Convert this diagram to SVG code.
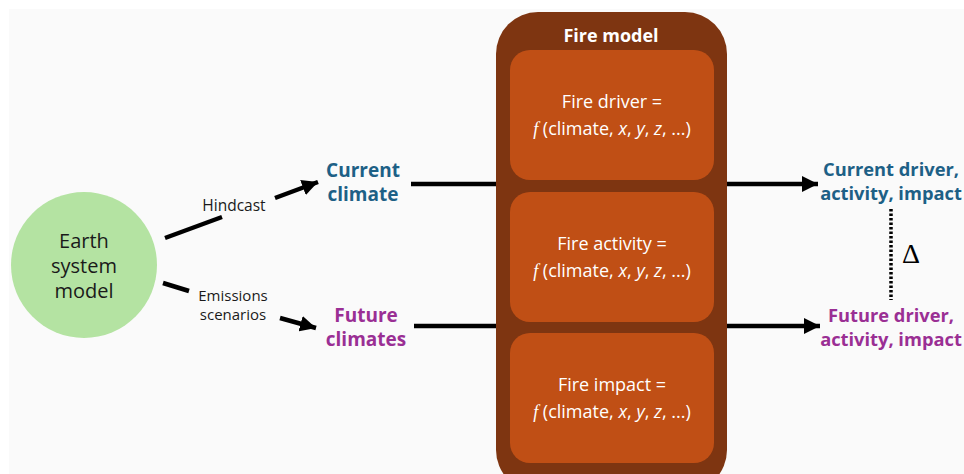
<svg xmlns="http://www.w3.org/2000/svg" width="964" height="474" viewBox="0 0 964 474">
<defs>
<style>
.lbl{font-family:"Open Sans","Noto Sans","Liberation Sans",sans-serif;text-anchor:middle}
.bold{font-weight:700;font-size:19px}
.rt{font-size:18.3px}
.cur{fill:#1d6086}
.fut{fill:#9a2f94}
.fn{fill:#ffffff;font-size:18px}
.ln{stroke:#000;stroke-width:4.5;fill:none}
.inner{fill:#c04f15}
</style>
<marker id="ah" markerUnits="userSpaceOnUse" markerWidth="18" markerHeight="16" refX="16" refY="8" orient="auto">
<path d="M0,0 L16,8 L0,16 Z" fill="#000"/>
</marker>
</defs>
<rect x="0" y="0" width="964" height="474" fill="#ffffff"/>
<rect x="9" y="9" width="955" height="465" fill="#fafafa"/>

<g id="connectors">
<line class="ln" x1="165" y1="238" x2="222" y2="217"/>
<line class="ln" x1="275" y1="198" x2="318" y2="182" marker-end="url(#ah)"/>
<line class="ln" x1="163" y1="283" x2="189" y2="291"/>
<line class="ln" x1="280" y1="318" x2="316" y2="328" marker-end="url(#ah)"/>
<line class="ln" x1="411" y1="184" x2="497" y2="184"/>
<line class="ln" x1="414" y1="326" x2="497" y2="326"/>
<line class="ln" x1="726" y1="184" x2="818" y2="184" marker-end="url(#ah)"/>
<line class="ln" x1="726" y1="326" x2="820" y2="326" marker-end="url(#ah)"/>
<line x1="891" y1="209" x2="891" y2="300" stroke="#000" stroke-width="3.5" stroke-dasharray="2.5 2"/>
</g>

<g id="earth">
<circle cx="84" cy="265" r="73" fill="#b4e3a2"/>
<text class="lbl" font-size="20" fill="#1a1a1a"><tspan x="84" y="248">Earth</tspan><tspan x="84" y="273">system</tspan><tspan x="84" y="298">model</tspan></text>
</g>

<g id="hindcast-label"><text class="lbl" x="234" y="211" font-size="15.5" fill="#1a1a1a">Hindcast</text></g>
<g id="emissions-label"><text class="lbl" font-size="15" fill="#1a1a1a"><tspan x="233" y="301">Emissions</tspan><tspan x="233" y="320">scenarios</tspan></text></g>

<g id="current-climate"><text class="lbl bold cur"><tspan x="363" y="177">Current</tspan><tspan x="363" y="201">climate</tspan></text></g>
<g id="future-climates"><text class="lbl bold fut"><tspan x="366" y="322">Future</tspan><tspan x="366" y="346">climates</tspan></text></g>

<g id="fire-model">
<rect x="496" y="12" width="231" height="480" rx="42" fill="#7e3511"/>
<text class="lbl" x="611" y="42" font-size="18" font-weight="700" fill="#ffffff">Fire model</text>
</g>
<g id="fire-driver">
<rect class="inner" x="510" y="50" width="204" height="130" rx="20"/>
<text class="lbl fn"><tspan x="612" y="108">Fire driver =</tspan><tspan x="612" y="135"><tspan font-family="Liberation Serif,serif" font-style="italic">f</tspan> (climate, <tspan font-style="italic">x</tspan>, <tspan font-style="italic">y</tspan>, <tspan font-style="italic">z</tspan>, ...)</tspan></text>
</g>
<g id="fire-activity">
<rect class="inner" x="510" y="192" width="204" height="130" rx="20"/>
<text class="lbl fn"><tspan x="612" y="250">Fire activity =</tspan><tspan x="612" y="277"><tspan font-family="Liberation Serif,serif" font-style="italic">f</tspan> (climate, <tspan font-style="italic">x</tspan>, <tspan font-style="italic">y</tspan>, <tspan font-style="italic">z</tspan>, ...)</tspan></text>
</g>
<g id="fire-impact">
<rect class="inner" x="510" y="333" width="204" height="130" rx="20"/>
<text class="lbl fn"><tspan x="612" y="391">Fire impact =</tspan><tspan x="612" y="418"><tspan font-family="Liberation Serif,serif" font-style="italic">f</tspan> (climate, <tspan font-style="italic">x</tspan>, <tspan font-style="italic">y</tspan>, <tspan font-style="italic">z</tspan>, ...)</tspan></text>
</g>

<g id="current-output"><text class="lbl bold rt cur"><tspan x="891" y="176">Current driver,</tspan><tspan x="891" y="200">activity, impact</tspan></text></g>
<g id="future-output"><text class="lbl bold rt fut"><tspan x="891" y="322">Future driver,</tspan><tspan x="891" y="346">activity, impact</tspan></text></g>
<g id="delta"><text x="911" y="263" font-family="Liberation Serif,serif" font-size="28" text-anchor="middle" fill="#000">Δ</text></g>
</svg>
